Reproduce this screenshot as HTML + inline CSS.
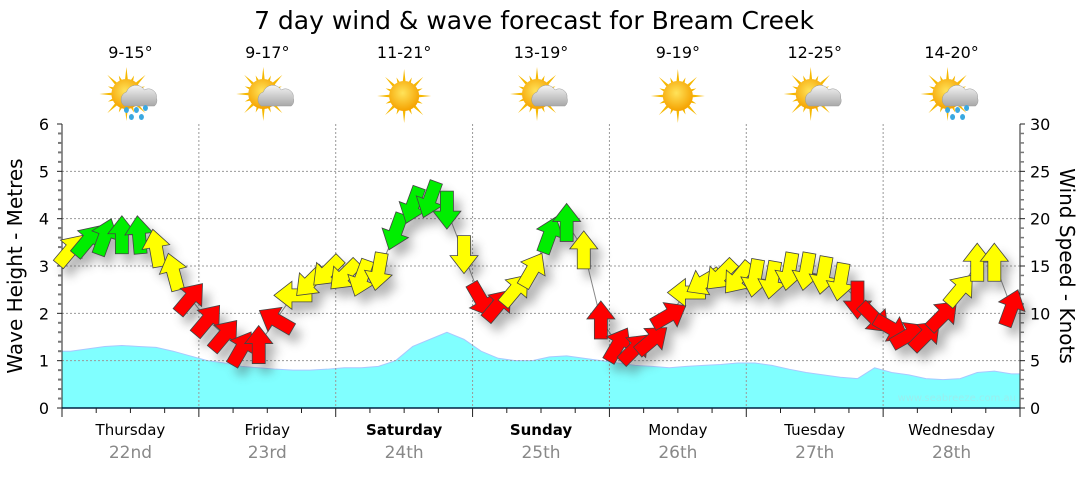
<!DOCTYPE html>
<html><head><meta charset="utf-8"><style>
body{margin:0;background:#fff;width:1080px;height:475px;overflow:hidden;font-family:"DejaVu Sans","Liberation Sans",sans-serif}
svg text{font-family:"DejaVu Sans","Liberation Sans",sans-serif}
</style></head><body>
<svg id="c" width="1080" height="475">
<defs>
<radialGradient id="sunG" cx="0.45" cy="0.4" r="0.6"><stop offset="0" stop-color="#ffe35a"/><stop offset="1" stop-color="#f5a200"/></radialGradient>
<linearGradient id="cloudG" x1="0" y1="0" x2="0" y2="1"><stop offset="0" stop-color="#f4f4f4"/><stop offset="1" stop-color="#a8a8a8"/></linearGradient>
<filter id="sh" x="-20%" y="-20%" width="140%" height="160%"><feGaussianBlur stdDeviation="5"/></filter>
</defs>
</svg>
<script>
const days=["Thursday","Friday","Saturday","Sunday","Monday","Tuesday","Wednesday"];
const dates=["22nd","23rd","24th","25th","26th","27th","28th"];
const bold=[false,false,true,true,false,false,false];
const temps=["9-15°","9-17°","11-21°","13-19°","9-19°","12-25°","14-20°"];
const icons=["rain","cloud","sun","cloud","sun","cloud","rain"];
const leftTicks=[0,1,2,3,4,5,6];
const rightTicks=[0,5,10,15,20,25,30];
const windKnots=[16.7,17.7,18.1,18.3,18.3,16.9,14.4,11.6,
9.3,7.7,6.3,6.7,9.3,11.9,13.3,14.4,
14.0,13.7,14.4,18.6,21.4,22.0,20.9,16.2,
11.4,10.9,12.5,14.6,18.3,19.6,16.7,9.3,
6.7,6.3,7.2,9.8,12.2,13.3,14.0,13.7,
13.7,13.5,14.4,14.4,14.0,13.3,11.4,9.5,
8.4,7.7,7.7,9.8,12.5,15.4,15.4,10.6];
const windDir=[40,40,20,0,-5,-10,-15,40,
40,40,30,0,-60,-90,225,225,
225,200,190,200,200,200,180,180,
150,40,40,30,20,0,0,0,
30,45,50,60,-90,-120,-135,-140,
190,190,190,190,190,190,180,135,
120,60,45,45,40,0,0,20];
const waveM=[1.2,1.25,1.3,1.32,1.3,1.28,1.2,1.1,
1.0,0.95,0.88,0.85,0.82,0.8,0.8,0.82,
0.85,0.85,0.88,1.0,1.3,1.45,1.6,1.45,
1.2,1.05,1.0,1.0,1.08,1.1,1.05,1.0,
0.95,0.9,0.88,0.85,0.88,0.9,0.92,0.95,
0.95,0.9,0.82,0.75,0.7,0.65,0.62,0.85,
0.75,0.7,0.62,0.6,0.62,0.75,0.78,0.72];

const NS="http://www.w3.org/2000/svg";
const svg=document.getElementById('c');
const X0=62,X1=1020,Y0=408,Y1=124;
const dayW=(X1-X0)/7;
const xT=i=>X0+(i+0.5)*dayW/8;
const yM=m=>Y0-(m/6)*(Y0-Y1);
const yK=k=>Y0-(k/30)*(Y0-Y1);
function el(t,a,p){const e=document.createElementNS(NS,t);for(const k in a)e.setAttribute(k,a[k]);(p||svg).appendChild(e);return e;}

let t=el('text',{x:534,y:29,'font-size':25,'text-anchor':'middle',fill:'#000'});t.textContent="7 day wind & wave forecast for Bream Creek";



let d=`M${X0},${Y0} L${X0},${yM(waveM[0])}`;
waveM.forEach((v,i)=>{d+=` L${xT(i)},${yM(v)}`});
d+=` L${X1},${yM(waveM[waveM.length-1])} L${X1},${Y0} Z`;
const wa=el('path',{d:d,fill:'#80ffff',stroke:'#a8c8ff','stroke-width':1});



const g=el('g',{});


leftTicks.forEach(v=>{if(v>0&&v<6)el('line',{x1:X0,x2:X1,y1:yM(v),y2:yM(v),stroke:'#999','stroke-dasharray':'2,2','stroke-width':1},g)});
for(let i=1;i<7;i++)el('line',{x1:X0+i*dayW,x2:X0+i*dayW,y1:Y1,y2:Y0,stroke:'#999','stroke-dasharray':'2,2','stroke-width':1},g);

let wm=el('text',{x:1016,y:401,'font-size':10,'text-anchor':'end',fill:'#9ee'});wm.textContent="www.seabreeze.com.au";



el('line',{x1:X0,x2:X0,y1:Y1,y2:Y0+1,stroke:'#222'});
el('line',{x1:X1,x2:X1,y1:Y1,y2:Y0+1,stroke:'#222'});
el('line',{x1:X0,x2:X1,y1:Y0,y2:Y0,stroke:'#024','stroke-width':1.5});
for(let v=0;v<=6.001;v+=0.2){const y=yM(v);const maj=Math.abs(v-Math.round(v))<0.01;el('line',{x1:X0-(maj?5:4),x2:X0,y1:y,y2:y,stroke:maj?'#222':'#777','stroke-width':maj?1:2});}
leftTicks.forEach(v=>{const tx=el('text',{x:49,y:yM(v)+6,'font-size':16,'text-anchor':'end'});tx.textContent=v;

});
for(let v=0;v<=30;v+=1){const y=yK(v);const maj=v%5==0;el('line',{x1:X1,x2:X1+(maj?5:4),y1:y,y2:y,stroke:maj?'#222':'#777','stroke-width':maj?1:1.5});}
rightTicks.forEach(v=>{const tx=el('text',{x:1030,y:yK(v)+6,'font-size':16});tx.textContent=v;

});
for(let i=0;i<=28;i++){const x=X0+i*dayW/4;el('line',{x1:x,x2:x,y1:Y0,y2:Y0+(i%4==0?9:5),stroke:'#222'});}
let lt=el('text',{x:0,y:0,'font-size':20,'text-anchor':'middle',transform:'translate(22,266) rotate(-90)'});lt.textContent="Wave Height - Metres";


let rt=el('text',{x:0,y:0,'font-size':20,'text-anchor':'middle',transform:'translate(1060,266) rotate(90)'});rt.textContent="Wind Speed - Knots";



days.forEach((dn,i)=>{const cx=X0+(i+0.5)*dayW;
const a=el('text',{x:cx,y:435,'font-size':15,'text-anchor':'middle','font-weight':bold[i]?'bold':'normal',fill:'#000'});a.textContent=dn;


const b=el('text',{x:cx,y:458,'font-size':17,'text-anchor':'middle',fill:'#888'});b.textContent=dates[i];


const tp=el('text',{x:cx,y:58,'font-size':16,'text-anchor':'middle'});tp.textContent=temps[i];


const ig=el('g',{transform:`translate(${cx},96)`});


const sx=icons[i]=='sun'?0:-4, sy=icons[i]=='sun'?0:-2;
for(let r=0;r<16;r++){const ang=r*22.5*Math.PI/180;const L=r%2?20:27;
el('polygon',{points:`${sx+Math.cos(ang-0.12)*13},${sy+Math.sin(ang-0.12)*13} ${sx+Math.cos(ang)*L},${sy+Math.sin(ang)*L} ${sx+Math.cos(ang+0.12)*13},${sy+Math.sin(ang+0.12)*13}`,fill:'#f6b800'},ig);}
el('circle',{cx:sx,cy:sy,r:15,fill:'url(#sunG)'},ig);
if(icons[i]!='sun'){
el('path',{d:'M-6,10 a8,8 0 0 1 2,-14 a10,10 0 0 1 18,-2 a8,8 0 0 1 12,8 a7,7 0 0 1 -2,8 Z',fill:'url(#cloudG)',stroke:'#999','stroke-width':0.5},ig);}
if(icons[i]=='rain'){[[-4,14],[6,14],[15,12],[1,21],[11,21]].forEach(p=>el('ellipse',{cx:p[0],cy:p[1],rx:2.5,ry:3,fill:'#3aa8e0'},ig));}
});

let ld='';windKnots.forEach((k,i)=>{ld+=(i?' L':'M')+xT(i)+','+yK(k)});
const wl=el('path',{d:ld,fill:'none',stroke:'#888','stroke-width':1});


const shp='M0,-19 L14,-1 L6.5,-1 L6.5,19 L-6.5,19 L-6.5,-1 L-14,-1 Z';
const shG=el('g',{opacity:0.4,filter:'url(#sh)'});
windKnots.forEach((k,i)=>el('path',{d:shp,fill:'#444',transform:`translate(${xT(i)+7},${yK(k)+9}) rotate(${windDir[i]})`},shG));
windKnots.forEach((k,i)=>{
const col=k>=17?'#00ee00':(k>=11.7?'#ffff00':'#ff0000');
const ar=el('path',{d:shp,fill:col,stroke:'#444','stroke-width':0.8,transform:`translate(${xT(i)},${yK(k)}) rotate(${windDir[i]})`});


});
</script>
</body></html>
